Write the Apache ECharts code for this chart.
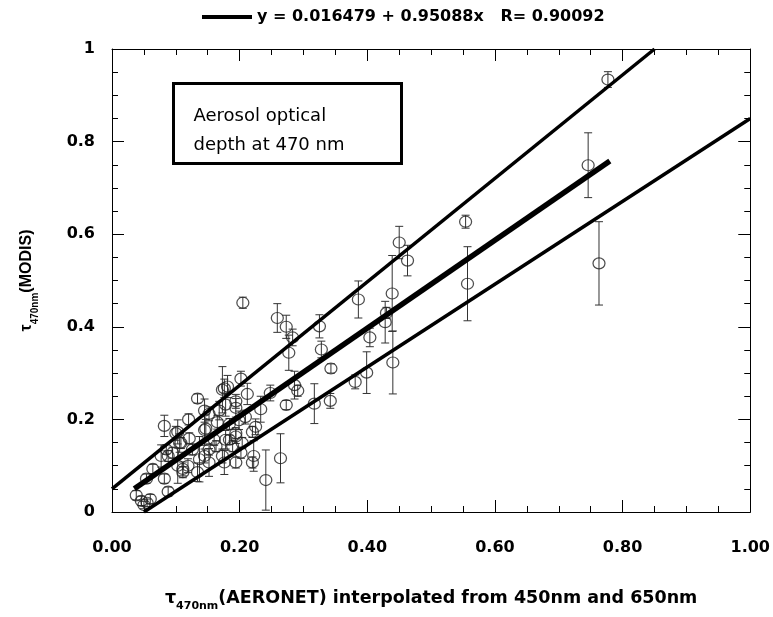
<!DOCTYPE html>
<html>
<head>
<meta charset="utf-8">
<script src="https://cdn.jsdelivr.net/npm/echarts@6/dist/echarts.min.js"></script>
<style>
  html, body { margin: 0; padding: 0; background: #fff; }
  #chart { width: 773px; height: 617px; }
</style>
</head>
<body>
<div id="chart"></div>
<script>
// MODIS vs AERONET aerosol optical depth at 470 nm
var ptX = [0.777, 0.746, 0.554, 0.557, 0.763, 0.463, 0.439, 0.440, 0.386, 0.428,
           0.430, 0.404, 0.273, 0.283, 0.277, 0.325, 0.328, 0.343, 0.286, 0.291,
           0.273, 0.317, 0.342, 0.381, 0.399, 0.264, 0.450, 0.205, 0.259, 0.134,
           0.082, 0.202, 0.173, 0.181, 0.212, 0.248, 0.233, 0.225, 0.220, 0.222,
           0.220, 0.241, 0.088, 0.038, 0.046, 0.145, 0.165, 0.184, 0.189, 0.176,
           0.103, 0.119, 0.111, 0.137, 0.126, 0.054, 0.064, 0.077, 0.085, 0.095,
           0.108, 0.121, 0.103, 0.152, 0.160, 0.194, 0.204, 0.202, 0.209, 0.194,
           0.178, 0.168, 0.152, 0.055, 0.060, 0.050, 0.176, 0.194, 0.145, 0.147,
           0.100, 0.106, 0.088, 0.082, 0.111, 0.134, 0.145, 0.163, 0.178, 0.194,
           0.184, 0.199, 0.194, 0.152, 0.173, 0.120];
var ptY = [0.934, 0.749, 0.627, 0.493, 0.537, 0.543, 0.472, 0.323, 0.459, 0.410,
           0.430, 0.377, 0.400, 0.377, 0.344, 0.401, 0.351, 0.310, 0.274, 0.262,
           0.231, 0.234, 0.240, 0.281, 0.301, 0.116, 0.582, 0.452, 0.419, 0.245,
           0.186, 0.288, 0.264, 0.271, 0.255, 0.257, 0.222, 0.184, 0.173, 0.121,
           0.107, 0.069, 0.044, 0.036, 0.024, 0.177, 0.194, 0.156, 0.142, 0.107,
           0.100, 0.100, 0.086, 0.114, 0.135, 0.072, 0.093, 0.121, 0.135, 0.128,
           0.149, 0.159, 0.173, 0.135, 0.156, 0.170, 0.149, 0.128, 0.205, 0.225,
           0.232, 0.219, 0.212, 0.020, 0.028, 0.015, 0.267, 0.239, 0.219, 0.180,
           0.170, 0.149, 0.121, 0.072, 0.093, 0.086, 0.121, 0.142, 0.156, 0.163,
           0.190, 0.198, 0.107, 0.107, 0.121, 0.200];
var ptErr = [0.017, 0.070, 0.014, 0.080, 0.090, 0.033, 0.082, 0.068, 0.040, 0.045,
             0.012, 0.020, 0.025, 0.018, 0.038, 0.025, 0.018, 0.010, 0.030, 0.012,
             0.010, 0.043, 0.016, 0.015, 0.045, 0.053, 0.035, 0.012, 0.031, 0.010,
             0.023, 0.016, 0.050, 0.024, 0.023, 0.017, 0.028, 0.017, 0.012, 0.033,
             0.012, 0.065, 0.010, 0.010, 0.010, 0.033, 0.015, 0.010, 0.012, 0.026,
             0.038, 0.015, 0.012, 0.049, 0.012, 0.010, 0.010, 0.024, 0.010, 0.012,
             0.012, 0.012, 0.026, 0.012, 0.012, 0.012, 0.012, 0.012, 0.015, 0.020,
             0.025, 0.020, 0.015, 0.008, 0.010, 0.008, 0.020, 0.015, 0.025, 0.020,
             0.015, 0.020, 0.012, 0.010, 0.015, 0.020, 0.015, 0.012, 0.020, 0.015,
             0.012, 0.020, 0.012, 0.030, 0.015, 0.012];

// lines (end points)
var fitLine = [[0.035, 0.050], [0.78, 0.758]];
var upperLine = [[0.0, 0.050], [0.85, 1.0]];
var lowerLine = [[0.05, 0.0], [1.0, 0.85]];
var fitName = 'y = 0.016479 + 0.95088x   R= 0.90092';

var pts = [];
for (var i = 0; i < ptX.length; i++) {
    pts.push([ptX[i], ptY[i], ptErr[i]]);
}

var chart = echarts.init(document.getElementById('chart'));

var tickFont = { fontFamily: 'DejaVu Sans', fontWeight: 'bold', fontSize: 16, color: '#000' };

function axisCommon(showLabel) {
    return {
        type: 'value',
        min: 0,
        max: 1,
        interval: 0.2,
        axisLine: { show: true, onZero: false, lineStyle: { color: '#000', width: 1 } },
        axisTick: { show: true, inside: true, length: 12, lineStyle: { color: '#000' } },
        minorTick: { show: true, splitNumber: 4, length: 6, lineStyle: { color: '#000' } },
        splitLine: { show: false },
        minorSplitLine: { show: false },
        axisLabel: { show: showLabel }
    };
}

var xBottom = axisCommon(true);
xBottom.position = 'bottom';
xBottom.axisLabel = Object.assign({ show: true, margin: 28, formatter: function (v) { return v.toFixed(2); } }, tickFont);
xBottom.name = '{t|τ}{s|470nm}{t|(AERONET) interpolated from 450nm and 650nm}';
xBottom.nameLocation = 'middle';
xBottom.nameGap = 72;
xBottom.nameTextStyle = {
    rich: {
        t: { fontFamily: 'DejaVu Sans', fontWeight: 'bold', fontSize: 17.5, color: '#000' },
        s: { fontFamily: 'DejaVu Sans', fontWeight: 'bold', fontSize: 11, color: '#000', padding: [17, 0, 0, 0] }
    }
};
var xTop = axisCommon(false);
xTop.position = 'top';

var yLeft = axisCommon(true);
yLeft.position = 'left';
yLeft.axisLabel = Object.assign({ show: true, margin: 17, formatter: function (v) { return String(+v.toFixed(1)); } }, tickFont);
yLeft.name = '{t|τ}{s|470nm}{t|(MODIS)}';
yLeft.nameLocation = 'middle';
yLeft.nameGap = 72;
yLeft.nameTextStyle = {
    rich: {
        t: { fontFamily: 'Liberation Sans', fontWeight: 'bold', fontSize: 16, color: '#000' },
        s: { fontFamily: 'Liberation Sans', fontWeight: 'bold', fontSize: 10, color: '#000', padding: [16, 0, 0, 0] }
    }
};
var yRight = axisCommon(false);
yRight.position = 'right';

chart.setOption({
    backgroundColor: '#fff',
    animation: false,
    grid: { left: 112, right: 18, top: 49, bottom: 89 },
    legend: {
        data: [fitName],
        left: 197,
        top: 4,
        icon: 'rect',
        itemWidth: 50,
        itemHeight: 4,
        textStyle: { fontFamily: 'DejaVu Sans', fontWeight: 'bold', fontSize: 16, color: '#000' }
    },
    xAxis: [xBottom, xTop],
    yAxis: [yLeft, yRight],
    graphic: [{
        type: 'group',
        left: 172,
        top: 82,
        children: [{
            type: 'rect',
            shape: { x: 0, y: 0, width: 228, height: 80 },
            style: { fill: '#fff', stroke: '#000', lineWidth: 3 }
        }, {
            type: 'text',
            x: 20,
            y: 18,
            style: {
                text: 'Aerosol optical\ndepth at 470 nm',
                font: '18px "DejaVu Sans"',
                lineHeight: 29,
                fill: '#000'
            }
        }]
    }],
    series: [{
        name: 'errbars',
        type: 'custom',
        clip: true,
        data: pts,
        z: 2,
        renderItem: function (params, api) {
            var x = api.value(0), y = api.value(1), e = api.value(2);
            var top = api.coord([x, y + e]);
            var bot = api.coord([x, y - e]);
            var w = 4;
            var st = { stroke: '#333', lineWidth: 1 };
            return {
                type: 'group',
                children: [
                    { type: 'line', shape: { x1: top[0], y1: top[1], x2: bot[0], y2: bot[1] }, style: st },
                    { type: 'line', shape: { x1: top[0] - w, y1: top[1], x2: top[0] + w, y2: top[1] }, style: st },
                    { type: 'line', shape: { x1: bot[0] - w, y1: bot[1], x2: bot[0] + w, y2: bot[1] }, style: st }
                ]
            };
        }
    }, {
        name: 'points',
        type: 'scatter',
        data: pts,
        symbol: 'circle',
        symbolSize: [12, 11],
        z: 3,
        itemStyle: { color: 'rgba(255,255,255,0)', borderColor: '#222', borderWidth: 1.2 }
    }, {
        name: 'upper',
        type: 'line',
        data: upperLine,
        symbol: 'none',
        z: 4,
        lineStyle: { color: '#000', width: 3.5 }
    }, {
        name: 'lower',
        type: 'line',
        data: lowerLine,
        symbol: 'none',
        z: 4,
        lineStyle: { color: '#000', width: 3.5 }
    }, {
        name: fitName,
        type: 'line',
        data: fitLine,
        symbol: 'none',
        z: 5,
        itemStyle: { color: '#000' },
        lineStyle: { color: '#000', width: 5.5 }
    }]
});
</script>
</body>
</html>
